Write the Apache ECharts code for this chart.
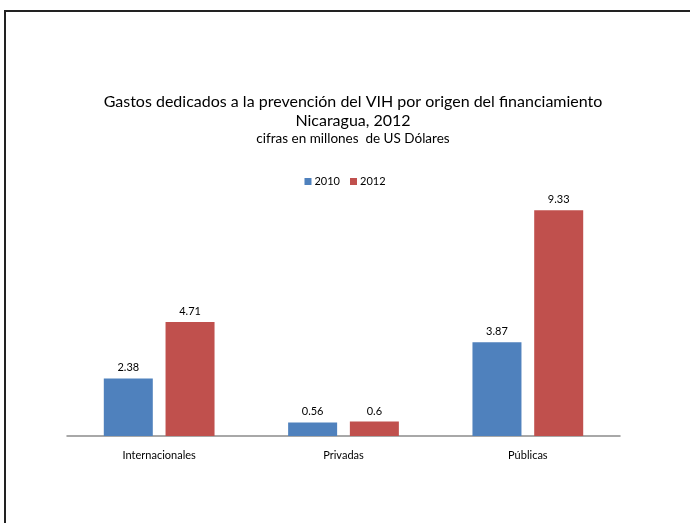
<!DOCTYPE html>
<html>
<head>
<meta charset="utf-8">
<script src="https://cdn.jsdelivr.net/npm/echarts@6/dist/echarts.min.js"></script>
<style>
  html, body { margin: 0; padding: 0; background: #fff; overflow: hidden; }
  #frame { position: absolute; left: 4px; top: 10px; width: 720px; height: 540px;
           border-left: 2px solid #222; border-top: 2px solid #222; }
  #chart-container { position: absolute; left: 0; top: 0; width: 690px; height: 523px; }
</style>
</head>
<body>
<div id="frame"></div>
<div id="chart-container"></div>
<script>
// Data
const categories = ['Internacionales', 'Privadas', 'Públicas'];
const values2010 = [2.38, 0.56, 3.87];
const values2012 = [4.71, 0.6, 9.33];
const seriesNames = ['2010', '2012'];

const font = 'Lato, "Open Sans", sans-serif';

const container = echarts.init(document.getElementById('chart-container'));

const barLabel = {
    show: true,
    position: 'top',
    distance: 5,
    color: '#000',
    fontFamily: font,
    fontSize: 11
};

const cfg = {
    animation: false,
    title: {
        text: 'Gastos dedicados a la prevención del VIH por origen del financiamiento\nNicaragua, 2012',
        subtext: 'cifras en millones  de US Dólares',
        left: 348,
        top: 87,
        textAlign: 'center',
        itemGap: 2,
        textStyle: {
            fontFamily: font,
            fontWeight: 'normal',
            fontSize: 16,
            lineHeight: 19,
            color: '#000'
        },
        subtextStyle: {
            fontFamily: font,
            fontSize: 13.5,
            color: '#000'
        }
    },
    legend: {
        data: seriesNames,
        top: 171,
        left: 'center',
        itemWidth: 7,
        itemHeight: 7,
        itemGap: 10,
        icon: 'rect',
        textStyle: { fontFamily: font, fontSize: 11, color: '#000', padding: [0, 0, 0, -2] }
    },
    grid: {
        left: 67,
        right: 70,
        top: 194,
        bottom: 87
    },
    xAxis: {
        type: 'category',
        data: categories,
        axisLine: { lineStyle: { color: '#8c8c8c', width: 1.5 } },
        axisTick: { show: false },
        axisLabel: { color: '#000', fontFamily: font, fontSize: 11, margin: 14 }
    },
    yAxis: {
        type: 'value',
        min: 0,
        max: 10,
        show: false
    },
    series: [{
        name: seriesNames[0],
        type: 'bar',
        data: values2010,
        barWidth: 49,
        barGap: '26%',
        itemStyle: { color: '#4f81bd' },
        label: barLabel
    }, {
        name: seriesNames[1],
        type: 'bar',
        data: values2012,
        barWidth: 49,
        itemStyle: { color: '#c0504d' },
        label: barLabel
    }]
};

container.setOption(cfg);
</script>
</body>
</html>
